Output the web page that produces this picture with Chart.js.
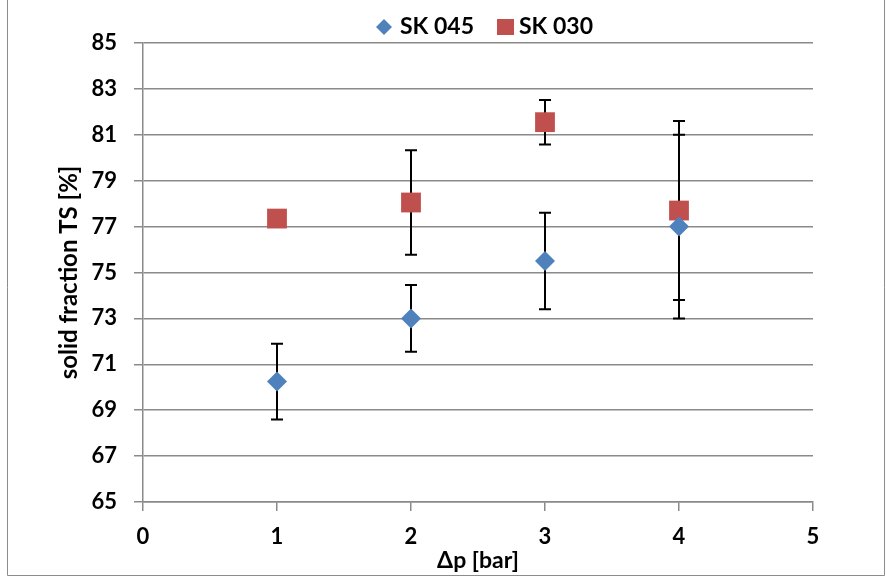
<!DOCTYPE html>
<html>
<head>
<meta charset="utf-8">
<script src="https://cdn.jsdelivr.net/npm/chart.js@4/dist/chart.umd.min.js"></script>
<style>
  html, body { margin: 0; padding: 0; background: #ffffff; }
  #wrap { width: 887px; height: 577px; position: relative; }
</style>
</head>
<body>
<div id="wrap"><canvas id="c" width="887" height="577"></canvas></div>
<script>
// ---- data ----
const pressure = [1, 2, 3, 4];                 // Δp [bar]
const sk045 = [70.25, 73.0, 75.5, 77.0];       // solid fraction TS [%]
const sk045Err = [1.65, 1.45, 2.1, 4.0];
const sk030 = [77.35, 78.05, 81.55, 77.7];
const sk030Err = [0, 2.28, 0.97, 3.9];
const seriesNames = ['SK 045', 'SK 030'];
const xTickLabels = ['0', '1', '2', '3', '4', '5'];
const yTickLabels = ['65', '67', '69', '71', '73', '75', '77', '79', '81', '83', '85'];
const xTitle = 'Δp [bar]';
const yTitle = 'solid fraction TS [%]';

const FONT = 'Lato, "Open Sans", sans-serif';
const BLUE = '#4F81BD';
const RED = '#C0504D';
const GRID = '#8a8a8a';

function toPoints(xs, ys, es) {
  return xs.map((x, i) => ({ x: x, y: ys[i], err: es[i] }));
}

const errorBars = {
  id: 'errorBars',
  beforeDatasetsDraw(chart) {
    const ctx = chart.ctx;
    const xs = chart.scales.x, ys = chart.scales.y;
    ctx.save();
    ctx.strokeStyle = '#000000';
    ctx.lineWidth = 2;
    chart.data.datasets.forEach(ds => {
      ds.data.forEach(p => {
        if (!p.err) return;
        const px = Math.round(xs.getPixelForValue(p.x));
        const yTop = ys.getPixelForValue(p.y + p.err);
        const yBot = ys.getPixelForValue(p.y - p.err);
        ctx.beginPath();
        ctx.moveTo(px, yTop); ctx.lineTo(px, yBot);
        ctx.moveTo(px - 6, yTop); ctx.lineTo(px + 6, yTop);
        ctx.moveTo(px - 6, yBot); ctx.lineTo(px + 6, yBot);
        ctx.stroke();
      });
    });
    ctx.restore();
  }
};

const customLegend = {
  id: 'customLegend',
  afterDraw(chart) {
    const ctx = chart.ctx;
    ctx.save();
    ctx.font = 'bold 23px ' + FONT;
    ctx.textBaseline = 'middle';
    ctx.textAlign = 'left';
    const y = 27;
    const ds = chart.data.datasets;
    const w0 = ctx.measureText(ds[0].label).width;
    const w1 = ctx.measureText(ds[1].label).width;
    const total = 16 + 8 + w0 + 23 + 17 + 5 + w1;
    let x = Math.round(484 - total / 2);
    // diamond
    ctx.fillStyle = ds[0].backgroundColor;
    ctx.beginPath();
    ctx.moveTo(x, y); ctx.lineTo(x + 8, y - 8); ctx.lineTo(x + 16, y); ctx.lineTo(x + 8, y + 8);
    ctx.closePath(); ctx.fill();
    x += 16 + 8;
    ctx.fillStyle = '#000000';
    ctx.fillText(ds[0].label, x, y);
    x += w0 + 23;
    ctx.fillStyle = ds[1].backgroundColor;
    ctx.fillRect(x, y - 8, 17, 16);
    x += 17 + 5;
    ctx.fillStyle = '#000000';
    ctx.fillText(ds[1].label, x, y);
    ctx.restore();
  }
};

const frame = {
  id: 'frame',
  afterDraw(chart) {
    const ctx = chart.ctx;
    ctx.save();
    ctx.strokeStyle = '#8c8c8c';
    ctx.lineWidth = 1;
    ctx.beginPath();
    ctx.moveTo(7.5, 0); ctx.lineTo(7.5, 575.5); ctx.lineTo(884.5, 575.5); ctx.lineTo(884.5, 0);
    ctx.stroke();
    ctx.restore();
  }
};

new Chart(document.getElementById('c'), {
  type: 'scatter',
  data: {
    datasets: [
      {
        label: seriesNames[0],
        data: toPoints(pressure, sk045, sk045Err),
        pointStyle: 'rectRot',
        pointRadius: 10,
        pointHoverRadius: 10,
        backgroundColor: BLUE,
        borderColor: BLUE,
        borderWidth: 0
      },
      {
        label: seriesNames[1],
        data: toPoints(pressure, sk030, sk030Err),
        pointStyle: 'rect',
        pointRadius: 14,
        pointHoverRadius: 14,
        backgroundColor: RED,
        borderColor: RED,
        borderWidth: 0
      }
    ]
  },
  options: {
    responsive: false,
    animation: false,
    layout: { padding: { top: 43, right: 74, bottom: 0, left: 0 } },
    plugins: {
      legend: { display: false },
      tooltip: { enabled: false }
    },
    scales: {
      x: {
        type: 'linear',
        min: 0, max: 5,
        afterFit: s => { s.height = 75; },
        afterBuildTicks: s => { s.ticks = xTickLabels.map(v => ({ value: Number(v) })); },
        ticks: {
          color: '#000000',
          font: { family: FONT, size: 22, weight: 'bold' },
          padding: 13,
          maxRotation: 0,
          callback: (v, i) => xTickLabels[i]
        },
        grid: { drawOnChartArea: false, drawTicks: true, tickLength: 9, color: GRID, lineWidth: 1.5 },
        border: { display: true, color: GRID, width: 1.5 },
        title: {
          display: true, text: xTitle, color: '#000000',
          font: { family: FONT, size: 23, weight: 'bold' },
          padding: { top: 0, bottom: 3 }
        }
      },
      y: {
        type: 'linear',
        min: 65, max: 85,
        afterFit: s => { s.width = 143; },
        afterBuildTicks: s => { s.ticks = yTickLabels.map(v => ({ value: Number(v) })); },
        ticks: {
          color: '#000000',
          font: { family: FONT, size: 22, weight: 'bold' },
          padding: 17,
          callback: (v) => String(v)
        },
        grid: { drawOnChartArea: true, drawTicks: true, tickLength: 9, color: GRID, lineWidth: 1.5 },
        border: { display: true, color: GRID, width: 1.5 },
        title: {
          display: true, text: yTitle, color: '#000000',
          font: { family: FONT, size: 24, weight: 'bold' },
          padding: { top: 55, bottom: 0 }
        }
      }
    }
  },
  plugins: [errorBars, customLegend, frame]
});
</script>
</body>
</html>
